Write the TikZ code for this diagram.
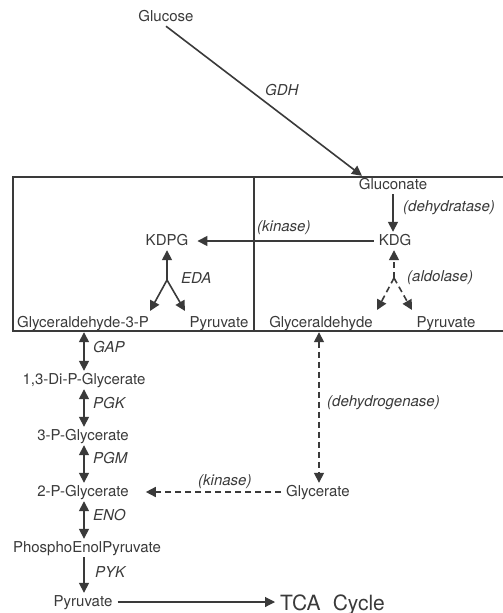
\documentclass[tikz,border=0pt]{standalone}
\usepackage{fontspec}
\setmainfont{TeX Gyre Heros}
\usetikzlibrary{arrows.meta}
\definecolor{ink}{HTML}{3A3A3A}
\begin{document}
\begin{tikzpicture}[x=1pt,y=-1pt,
  every node/.style={font=\fontsize{15}{17}\selectfont, text=ink},
  chem/.style={inner xsep=5pt, inner ysep=2pt, text height=11pt, text depth=3pt},
  enz/.style={font=\fontsize{15}{17}\selectfont\itshape, inner sep=0pt, anchor=west},
  rxn/.style={draw=ink, line width=1.6pt, -{Triangle[length=10pt,width=10pt]}},
  rev/.style={draw=ink, line width=1.6pt, {Triangle[length=10pt,width=10pt]}-{Triangle[length=10pt,width=10pt]}},
  dsh/.style={dash pattern=on 6pt off 4pt},
  boxline/.style={draw=ink, line width=1.1pt}
]
\fill[white] (0,0) rectangle (503,613);
\useasboundingbox (0,0) rectangle (503,613);

% box
\draw[boxline] (503,177) -- (13,177) -- (13,331) -- (503,331);
\draw[draw=ink, line width=2pt] (254,177) -- (254,331);

% compounds
\node[chem] (glucose) at (166,17) {Glucose};
\node[chem] (gluconate) at (393,185) {Gluconate};
\node[chem] (kdg) at (395,241) {KDG};
\node[chem] (kdpg) at (167,241) {KDPG};
\node[chem] (g3p) at (83,323) {Glyceraldehyde-3-P};
\node[chem] (pyrL) at (219,323) {Pyruvate};
\node[chem] (gald) at (321,323) {Glyceraldehyde};
\node[chem] (pyrR) at (446,323) {Pyruvate};
\node[chem] (dpg) at (84,380) {1,3-Di-P-Glycerate};
\node[chem] (pg3) at (83,436) {3-P-Glycerate};
\node[chem] (pg2) at (83,492) {2-P-Glycerate};
\node[chem] (glycerate) at (318,492) {Glycerate};
\node[chem] (pep) at (87,548) {PhosphoEnolPyruvate};
\node[chem] (pyr) at (83,602) {Pyruvate};
\node[chem, font=\fontsize{21}{24}\selectfont, text height=15pt, anchor=base west, inner xsep=0pt] (tca) at (280,610) {TCA\hspace{0.3em} Cycle};

% helper coordinates
\coordinate (ax) at (84,0);
\coordinate (eda) at (167,280);
\coordinate (edaL) at (150,311);
\coordinate (edaR) at (185,311);
\coordinate (ald) at (394,278);
\coordinate (aldL) at (377,310);
\coordinate (aldR) at (412,310);

% connectors
\draw[rxn] (glucose.south) -- ([xshift=-31pt]gluconate.north);
\draw[rxn] (gluconate.south) -- (gluconate.south |- kdg.north);
\draw[rxn] (kdg.west) -- ([xshift=4pt]kdpg.east);
\draw[rxn] (eda) -- (eda |- kdpg.south);
\draw[rxn] (eda) -- (edaL);
\draw[rxn] (eda) -- (edaR);
\draw[rxn, dsh] (ald) -- (ald |- kdg.south);
\draw[rxn, dsh] (ald) -- (aldL);
\draw[rxn, dsh] (ald) -- (aldR);

\draw[rev] (g3p.south -| ax) -- (dpg.north -| ax);
\draw[rev] (dpg.south -| ax) -- (pg3.north -| ax);
\draw[rev] (pg3.south -| ax) -- (pg2.north -| ax);
\draw[rev] (pg2.south -| ax) -- (pep.north -| ax);
\draw[rxn] (pep.south -| ax) -- (pyr.north -| ax);
\draw[rxn, line width=1.1pt] (pyr.east) -- ([xshift=-5pt]tca.west |- pyr.east);

\draw[rev, dsh] ([xshift=-2pt]gald.south) -- ([xshift=-2pt]gald.south |- glycerate.north);
\draw[rxn, dsh] (glycerate.west) -- ([xshift=12pt]pg2.east);

% enzyme labels
\node[enz] (lgdh) at (265,90) {GDH};
\node[enz] (ldehyd) at (403,208) {(dehydratase)};
\node[enz] (lkin1) at (257,228) {(kinase)};
\node[enz] (leda) at (181,278) {EDA};
\node[enz] (lald) at (407,278) {(aldolase)};
\node[enz] (lgap) at (93,347) {GAP};
\node[enz] (lpgk) at (93,403) {PGK};
\node[enz] (lpgm) at (93,458) {PGM};
\node[enz] (leno) at (93,515) {ENO};
\node[enz] (lpyk) at (95,572) {PYK};
\node[enz] (lkin2) at (198,482) {(kinase)};
\node[enz] (ldhg) at (327,403) {(dehydrogenase)};
\end{tikzpicture}
\end{document}
